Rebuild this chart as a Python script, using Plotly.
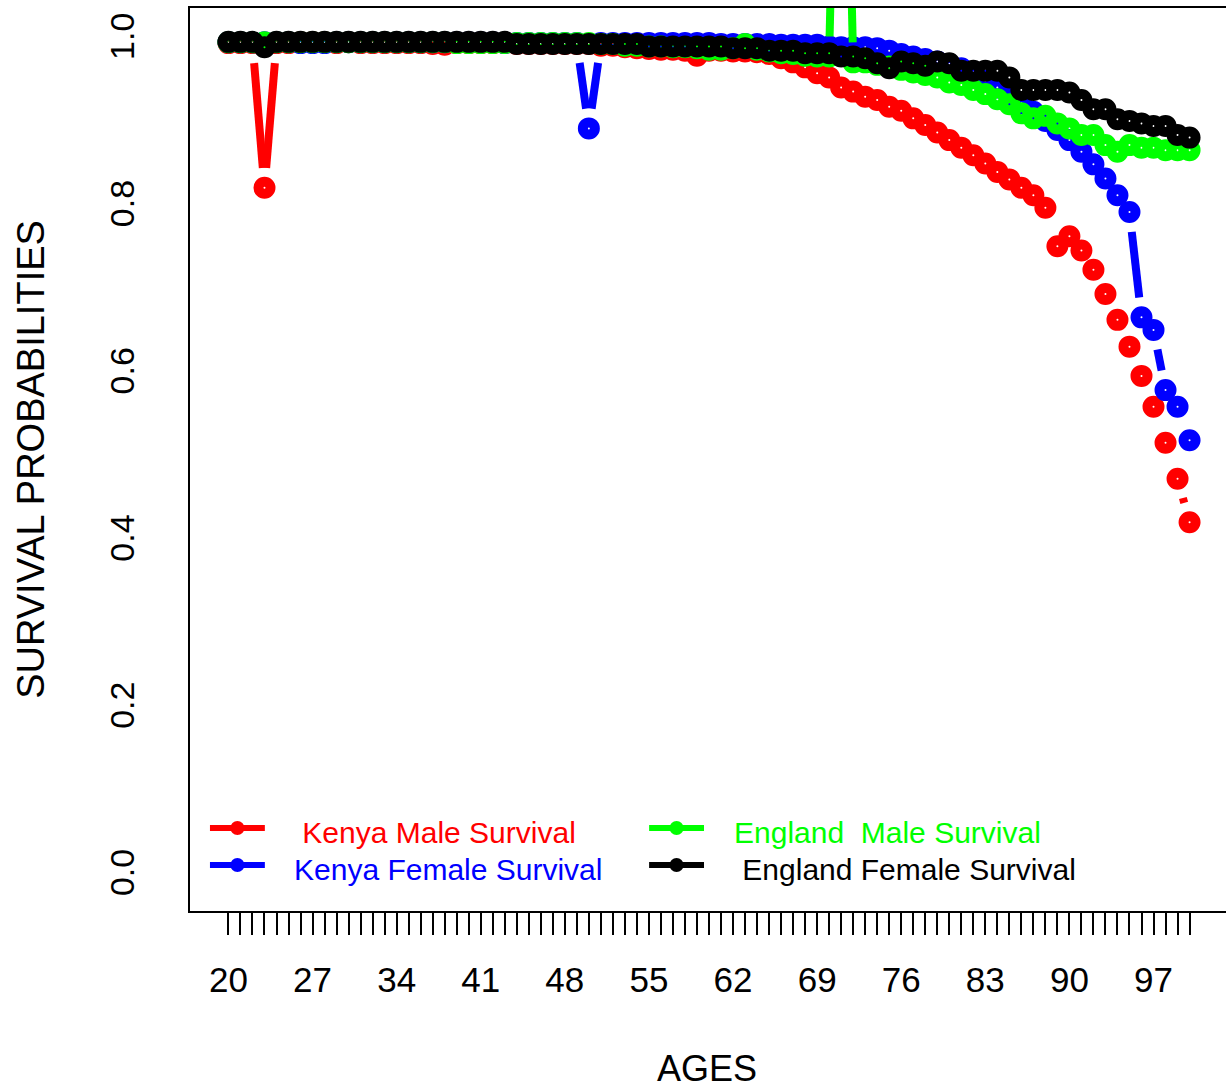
import math
import plotly.graph_objects as go

# ---------------- data ----------------
ages = list(range(20, 101))

kenya_male = [
    0.998, 0.998, 0.998, 0.825, 0.998, 0.998, 0.999, 0.999, 0.999, 0.998,
    0.999, 0.998, 0.998, 0.998, 0.998, 0.998, 0.998, 0.997, 0.996, 0.998,
    0.998, 0.998, 0.998, 0.998, 0.997, 0.997, 0.997, 0.997, 0.997, 0.997,
    0.997, 0.995, 0.995, 0.993, 0.992, 0.991, 0.990, 0.990, 0.989, 0.983,
    0.989, 0.989, 0.988, 0.988, 0.987, 0.985, 0.980, 0.975, 0.969, 0.962,
    0.957, 0.945, 0.940, 0.934, 0.930, 0.922, 0.917, 0.908, 0.900, 0.891,
    0.882, 0.873, 0.864, 0.854, 0.844, 0.835, 0.825, 0.816, 0.801, 0.755,
    0.767, 0.750, 0.727, 0.698, 0.667, 0.635, 0.600, 0.563, 0.520, 0.477,
    0.425,
]

kenya_female = [
    0.999, 0.999, 0.999, 0.999, 0.999, 0.999, 0.998, 0.998, 0.998, 0.999,
    0.999, 0.999, 0.999, 0.999, 0.999, 0.999, 0.999, 0.999, 0.999, 0.999,
    0.999, 0.999, 0.999, 0.998, 0.998, 0.998, 0.998, 0.998, 0.998, 0.998,
    0.896, 0.998, 0.998, 0.998, 0.998, 0.998, 0.998, 0.998, 0.998, 0.998,
    0.998, 0.997, 0.997, 0.997, 0.997, 0.997, 0.996, 0.996, 0.996, 0.996,
    0.994, 0.993, 0.993, 0.993, 0.992, 0.989, 0.985, 0.982, 0.979, 0.976,
    0.973, 0.968, 0.963, 0.953, 0.945, 0.936, 0.926, 0.916, 0.905, 0.894,
    0.882, 0.868, 0.853, 0.836, 0.816, 0.796, 0.670, 0.655, 0.583, 0.563,
    0.523,
]

england_male = [
    0.999, 0.999, 0.999, 0.999, 0.999, 0.999, 0.999, 0.999, 0.999, 0.999,
    0.999, 0.999, 0.999, 0.999, 0.999, 0.999, 0.999, 0.999, 0.999, 0.998,
    0.998, 0.998, 0.998, 0.998, 0.998, 0.998, 0.998, 0.998, 0.998, 0.998,
    0.998, 0.997, 0.997, 0.995, 0.995, 0.994, 0.994, 0.993, 0.993, 0.992,
    0.990, 0.990, 0.992, 0.997, 0.990, 0.988, 0.986, 0.985, 0.983, 0.982,
    0.982, 1.600, 0.975, 0.975, 0.972, 0.970, 0.966, 0.963, 0.960, 0.957,
    0.951, 0.948, 0.942, 0.937, 0.931, 0.925, 0.914, 0.908, 0.911, 0.902,
    0.896, 0.888, 0.888, 0.876, 0.868, 0.876, 0.873, 0.873, 0.870, 0.870,
    0.870,
]

england_female = [
    0.9995, 0.9995, 0.9995, 0.993, 0.9995, 0.9995, 0.9995, 0.9995, 0.9995, 0.9995,
    0.9995, 0.9995, 0.9995, 0.9995, 0.9995, 0.9995, 0.9995, 0.9995, 0.9995, 0.9995,
    0.9995, 0.9995, 0.9995, 0.9995, 0.997, 0.997, 0.997, 0.997, 0.997, 0.997,
    0.997, 0.997, 0.997, 0.997, 0.997, 0.994, 0.994, 0.994, 0.994, 0.994,
    0.994, 0.994, 0.992, 0.992, 0.992, 0.989, 0.989, 0.989, 0.986, 0.986,
    0.986, 0.982, 0.982, 0.980, 0.974, 0.968, 0.976, 0.974, 0.971, 0.976,
    0.974, 0.965, 0.965, 0.965, 0.965, 0.957, 0.942, 0.942, 0.942, 0.942,
    0.939, 0.930, 0.919, 0.919, 0.907, 0.905, 0.902, 0.899, 0.899, 0.888,
    0.885,
]

series_names = ["\u00a0Kenya Male Survival", "Kenya Female Survival",
                "England\u00a0\u00a0Male Survival", "\u00a0England Female Survival"]
series_colors = ["#FF0000", "#0000FF", "#00FF00", "#000000"]

x_tick_labels = [str(a) if (a - 20) % 7 == 0 else "" for a in ages]
y_tick_vals = [0.0, 0.2, 0.4, 0.6, 0.8, 1.0]
y_tick_labels = ["0.0", "0.2", "0.4", "0.6", "0.8", "1.0"]

# ---------------- layout geometry ----------------
# body margin is removed (post_script); the plot region runs slightly past the
# right edge of the window, as in the (cropped) reference
W, H = 1230, 1092
ML, MR, MT, MB = 190, 0, 8, 181
PW, PH = W - ML - MR, H - MT - MB
X_RANGE = [16.8, 103.2]
Y_RANGE = [-0.04, 1.04]
FONT = "Liberation Sans, Arial, sans-serif"


def px(xp):  # screen x pixel -> paper
    return (xp - ML) / PW


def py(yp):  # screen y pixel -> paper
    return (H - MB - yp) / PH


# R type="b": line segments leave a gap around each point
GAP = 20.0
XS = PW / (X_RANGE[1] - X_RANGE[0])
YS = PH / (Y_RANGE[1] - Y_RANGE[0])


def gapped(xs, ys):
    lx, ly = [], []
    for i in range(len(xs) - 1):
        ddx, ddy = xs[i + 1] - xs[i], ys[i + 1] - ys[i]
        L = math.hypot(ddx * XS, ddy * YS)
        if L > 2 * GAP:
            f0, f1 = GAP / L, 1 - GAP / L
            lx += [xs[i] + ddx * f0, xs[i] + ddx * f1, None]
            ly += [ys[i] + ddy * f0, ys[i] + ddy * f1, None]
    return lx, ly


fig = go.Figure()
for vals, name, col in zip([kenya_male, kenya_female, england_male, england_female],
                           series_names, series_colors):
    lx, ly = gapped(ages, vals)
    fig.add_trace(go.Scatter(
        x=lx, y=ly, mode="lines", name=name, line=dict(color=col, width=8),
        showlegend=False, connectgaps=False, hoverinfo="skip",
    ))
    fig.add_trace(go.Scatter(
        x=ages, y=vals, mode="markers", name=name,
        marker=dict(color=col, size=12, symbol="circle-open", line=dict(color=col, width=10)),
        showlegend=False, cliponaxis=True,
    ))

# manual legend (two columns, no box, like R)
shapes = []
annotations = []
legend_pos = [(210, 265, 828, 292), (210, 265, 865, 292),
              (650, 705, 828, 733), (650, 705, 865, 733)]
for (x0, x1, yc, tx), name, col in zip(legend_pos, series_names, series_colors):
    shapes.append(dict(type="line", xref="paper", yref="paper",
                       x0=px(x0), x1=px(x1), y0=py(yc), y1=py(yc),
                       line=dict(color=col, width=6)))
    xm = (x0 + x1) / 2
    shapes.append(dict(type="circle", xref="paper", yref="paper",
                       x0=px(xm - 7), x1=px(xm + 7), y0=py(yc + 7), y1=py(yc - 7),
                       fillcolor=col, line=dict(color=col, width=0)))
    annotations.append(dict(text=name, xref="paper", yref="paper",
                            x=px(tx), y=py(yc + 4), xanchor="left", yanchor="middle",
                            showarrow=False, font=dict(family=FONT, size=30, color=col)))

annotations.append(dict(text="AGES", xref="paper", yref="paper",
                        x=px(708), y=py(1068), xanchor="center", yanchor="middle",
                        showarrow=False, font=dict(family=FONT, size=36, color="#000")))
annotations.append(dict(text="SURVIVAL PROBABILITIES", xref="paper", yref="paper",
                        x=px(30), y=0.5, xanchor="center", yanchor="middle",
                        textangle=-90, showarrow=False,
                        font=dict(family=FONT, size=38, color="#000")))

fig.update_layout(
    width=W, height=H,
    margin=dict(l=ML, r=MR, t=MT, b=MB, pad=0),
    paper_bgcolor="white", plot_bgcolor="white",
    shapes=shapes, annotations=annotations,
    font=dict(family=FONT, color="#000"),
)
fig.update_xaxes(
    range=X_RANGE, tickmode="array", tickvals=ages, ticktext=x_tick_labels,
    ticks="outside", ticklen=22, tickwidth=2, tickcolor="#000",
    tickfont=dict(family=FONT, size=35, color="#000"), ticklabelstandoff=15,
    showgrid=False, zeroline=False, showline=True, linecolor="#000", linewidth=2, mirror=True,
)
fig.update_yaxes(
    range=Y_RANGE, tickmode="array", tickvals=y_tick_vals, ticktext=y_tick_labels,
    ticks="", tickangle=-90,
    tickfont=dict(family=FONT, size=34, color="#000"), ticklabelstandoff=40,
    showgrid=False, zeroline=False, showline=True, linecolor="#000", linewidth=2, mirror=True,
)

fig.write_html(
    "out.html",
    config={"displayModeBar": False},
    post_script="document.body.style.margin='0';document.body.style.overflow='hidden';",
)
